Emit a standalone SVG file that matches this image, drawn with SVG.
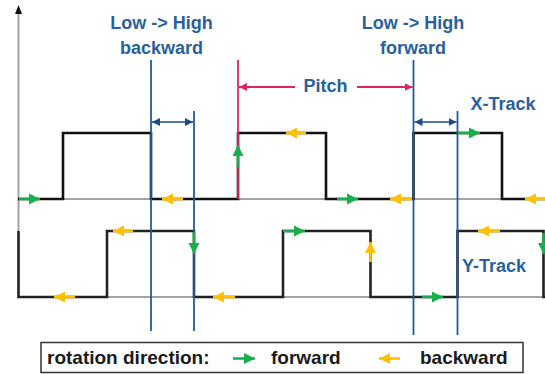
<svg xmlns="http://www.w3.org/2000/svg" width="545" height="374" viewBox="0 0 545 374">
  <style>
    .base { fill: none; stroke: #a3a3a3; stroke-width: 2; }
    .sig { fill: none; stroke: #111; stroke-width: 2.6; stroke-linejoin: miter; }
    .sigy { fill: none; stroke: #222; stroke-width: 2.6; stroke-linejoin: miter; }
    .vline { stroke: #1f5aa3; stroke-width: 1.8; }
    .dim { stroke: #1a4c8c; stroke-width: 1.6; }
    .pitch { stroke: #e0245e; stroke-width: 1.8; }
    .ga { stroke: #1aaf4d; stroke-width: 2.6; marker-end: url(#hg); }
    .ya { stroke: #ffc000; stroke-width: 2.6; marker-end: url(#hy); }
    .lbl { font-family: "Liberation Sans", Arial, sans-serif; font-weight: bold; font-size: 18px; fill: #2a5f9e; text-anchor: middle; }
    .leg { font-family: "Liberation Sans", Arial, sans-serif; font-weight: bold; font-size: 19px; fill: #1a1a1a; }
  </style>
  <defs>
    <marker id="hg" markerUnits="userSpaceOnUse" markerWidth="12" markerHeight="12" refX="11" refY="6" orient="auto">
      <path d="M0,0.5 L11,6 L0,11.5 z" fill="#1aaf4d"/>
    </marker>
    <marker id="hy" markerUnits="userSpaceOnUse" markerWidth="12" markerHeight="12" refX="11" refY="6" orient="auto">
      <path d="M0,0.5 L11,6 L0,11.5 z" fill="#ffc000"/>
    </marker>
    <marker id="hb" markerUnits="userSpaceOnUse" markerWidth="10" markerHeight="10" refX="8" refY="4.5" orient="auto-start-reverse">
      <path d="M0,0.5 L8,4.5 L0,8.5 z" fill="#1a4c8c"/>
    </marker>
    <marker id="hr" markerUnits="userSpaceOnUse" markerWidth="10" markerHeight="10" refX="8" refY="4.5" orient="auto">
      <path d="M0,0.5 L8,4.5 L0,8.5 z" fill="#e0245e"/>
    </marker>
  </defs>

  <rect width="545" height="374" fill="#ffffff"/>

  <g id="axis">
    <path class="base" d="M18.5,231 V12"/>
    <path d="M18.5,5 L15,14 L22,14 z" fill="#111"/>
  </g>

  <g id="x-track">
    <path class="base" d="M18,199 H545"/>
    <path class="sig" d="M18,199 H63 V133 H151 V199 H238 V133 H326 V199 H413.5 V133 H502 V199 H545"/>
  </g>

  <g id="y-track">
    <path class="base" d="M18,297 H545"/>
    <path class="sigy" d="M18.5,231 V297 H107 V231 H194 V297 H283 V231 H370.5 V297 H457.5 V231 H543.5 V297 H545"/>
  </g>

  <g id="connectors">
    <line class="pitch" x1="238" y1="60" x2="238" y2="199"/>
    <line class="vline" x1="151" y1="60" x2="151" y2="331"/>
    <line class="vline" x1="194" y1="111" x2="194" y2="331"/>
    <line class="vline" x1="413.5" y1="60" x2="413.5" y2="335"/>
    <line class="vline" x1="457.5" y1="111" x2="457.5" y2="335"/>
    <line class="dim" x1="152" y1="122" x2="193" y2="122" marker-start="url(#hb)" marker-end="url(#hb)"/>
    <line class="dim" x1="414.5" y1="122" x2="456.5" y2="122" marker-start="url(#hb)" marker-end="url(#hb)"/>
    <line class="pitch" x1="295" y1="87" x2="239" y2="87" marker-end="url(#hr)"/>
    <line class="pitch" x1="357" y1="87" x2="412.5" y2="87" marker-end="url(#hr)"/>
  </g>

  <g id="x-arrows">
    <line class="ga" x1="19" y1="199" x2="40" y2="199"/>
    <line class="ya" x1="183" y1="199" x2="162" y2="199"/>
    <line class="ga" x1="238" y1="167" x2="238" y2="145"/>
    <line class="ya" x1="306" y1="133" x2="286" y2="133"/>
    <line class="ga" x1="337" y1="199" x2="358" y2="199"/>
    <line class="ya" x1="412" y1="199" x2="390" y2="199"/>
    <line class="ga" x1="458" y1="133" x2="480" y2="133"/>
    <line class="ya" x1="545" y1="199" x2="525" y2="199"/>
  </g>

  <g id="y-arrows">
    <line class="ya" x1="75" y1="297" x2="54" y2="297"/>
    <line class="ya" x1="133" y1="231" x2="113" y2="231"/>
    <line class="ga" x1="194" y1="232" x2="194" y2="254"/>
    <line class="ya" x1="235" y1="297" x2="213" y2="297"/>
    <line class="ga" x1="283" y1="231" x2="305" y2="231"/>
    <line class="ya" x1="370.5" y1="262" x2="370.5" y2="242"/>
    <line class="ga" x1="422" y1="297" x2="443" y2="297"/>
    <line class="ya" x1="500" y1="231" x2="478" y2="231"/>
    <line class="ga" x1="543.5" y1="233" x2="543.5" y2="254"/>
  </g>

  <g id="labels">
    <text class="lbl" x="161.5" y="28.5">Low -&gt; High</text>
    <text class="lbl" x="161.5" y="54">backward</text>
    <text class="lbl" x="413" y="28.5">Low -&gt; High</text>
    <text class="lbl" x="413" y="54">forward</text>
    <text class="lbl" x="325.5" y="92">Pitch</text>
    <text class="lbl" x="503" y="110">X-Track</text>
    <text class="lbl" x="494" y="272">Y-Track</text>
  </g>

  <g id="legend">
    <rect x="41" y="342.5" width="482" height="30" fill="#ffffff" stroke="#333" stroke-width="1.5"/>
    <text class="leg" x="47" y="364">rotation direction:</text>
    <line class="ga" x1="233" y1="358.5" x2="255" y2="358.5"/>
    <text class="leg" x="271" y="364">forward</text>
    <line class="ya" x1="400" y1="358.5" x2="379" y2="358.5"/>
    <text class="leg" x="420" y="364">backward</text>
  </g>
</svg>
